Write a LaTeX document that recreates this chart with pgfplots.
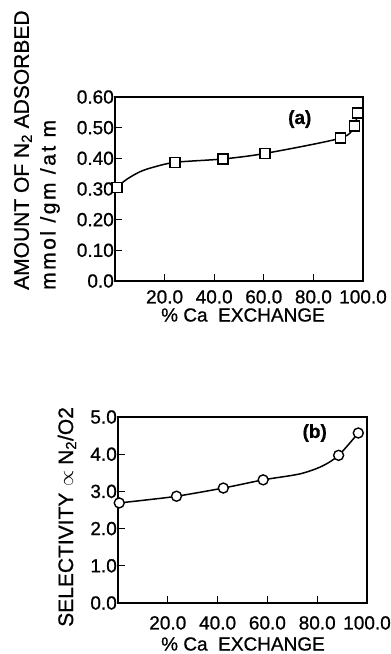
\documentclass[border=0pt]{standalone}
\usepackage{fontspec}
\setmainfont{Liberation Sans}[FakeBold=0.8]
\usepackage{pgfplots}
\pgfplotsset{compat=1.18}
\pgfplotsset{
  panel/.style={
    anchor=south west, scale only axis,
    xmin=0, xmax=100,
    axis line style={line width=1.5pt},
    tick align=inside, xtick pos=lower, ytick pos=left,
    major tick length=7pt,
    every tick/.style={line width=1.3pt, black},
    xtick={20,40,60,80,100},
    xticklabels={20.0,40.0,60.0,80.0,100.0},
    tick label style={font=\fontsize{19}{21}\selectfont},
    yticklabel style={anchor=east, inner sep=0pt, xshift=-1pt},
    xticklabel style={anchor=north, inner sep=0pt},
  },
}
\begin{document}
\fontsize{19}{21}\selectfont
\begin{tikzpicture}[x=1pt,y=1pt,font=\fontsize{19}{21}\selectfont]
\useasboundingbox (0,0) rectangle (391,654);
% ---------- panel (a)
\begin{axis}[panel,
  at={(115pt,373pt)}, width=248pt, height=184pt,
  ymin=0, ymax=0.6,
  ytick={0,0.1,0.2,0.3,0.4,0.5,0.6},
  yticklabels={0.0,0.10,0.20,0.30,0.40,0.50,0.60},
  xticklabel style={yshift=-9pt},
]
\addplot[black, line width=1.5pt, smooth, tension=0.45] coordinates {
 (0.5,0.305) (5,0.333) (10,0.356) (15,0.370) (24.2,0.387) (43.6,0.398)
 (60.5,0.416) (91,0.466) (96.5,0.505) (97.7,0.548)};
\addplot[only marks, mark=square*, mark size=5pt,
  mark options={fill=white, draw=black, line width=1.4pt}] coordinates {
 (0.8,0.305) (24.2,0.387) (43.6,0.398) (60.5,0.416) (91,0.466) (96.5,0.505) (97.7,0.548)};
\node[font=\fontsize{19}{21}\selectfont\bfseries] at (axis cs:74.5,0.528) {(a)};
\end{axis}
% ---------- panel (b)
\begin{axis}[panel,
  at={(118pt,51pt)}, width=249pt, height=186pt,
  ymin=0, ymax=5,
  ytick={0,1,2,3,4,5},
  yticklabels={0.0,1.0,2.0,3.0,4.0,5.0},
  xticklabel style={yshift=-13pt},
]
\addplot[black, line width=1.5pt, smooth, tension=0.5] coordinates {
 (0.5,2.69) (10,2.76) (23.5,2.87) (42.3,3.09) (58.3,3.31) (73,3.47)
 (82,3.68) (88.6,3.97) (96.5,4.57)};
\addplot[only marks, mark=*, mark size=5pt,
  mark options={fill=white, draw=black, line width=1.4pt}] coordinates {
 (0.5,2.69) (23.5,2.87) (42.3,3.09) (58.3,3.31) (88.6,3.97) (96.5,4.57)};
\node[font=\fontsize{19}{21}\selectfont\bfseries] at (axis cs:79,4.57) {(b)};
\end{axis}
% ---------- axis titles
\node[rotate=90, anchor=west, inner sep=0pt, font=\fontsize{21}{23}\selectfont]
  at (23,364) {AMOUNT OF N\textsubscript{2} ADSORBED};
\node[rotate=90, anchor=west, inner sep=0pt, font=\fontsize{21}{23}\selectfont\addfontfeature{LetterSpace=12}]
  at (50,364) {mmol /gm /at m};
\node[inner sep=0pt, font=\fontsize{19}{21}\selectfont] at (243,339) {\% Ca\ \ EXCHANGE};
\node[rotate=90, anchor=west, inner sep=0pt, font=\fontsize{21}{23}\selectfont]
  at (67,27) {SELECTIVITY $\propto$ N\textsubscript{2}/O2};
\node[inner sep=0pt, font=\fontsize{19}{21}\selectfont] at (243,10) {\% Ca\ \ EXCHANGE};
\end{tikzpicture}
\end{document}
